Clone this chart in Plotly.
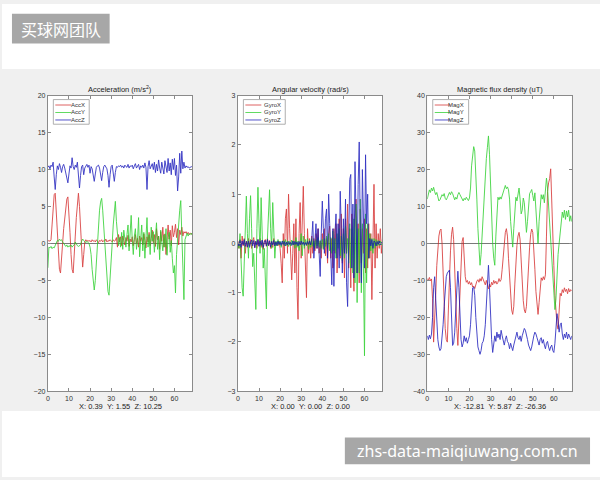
import numpy as np
import plotly.graph_objects as go

# ---------------- data ----------------
TIME_STEP = 0.5          # seconds between samples
X_MAX = 68.5
X_TICKS = [0, 10, 20, 30, 40, 50, 60]

ACC_X = [
    0.3, 0.4, 0.3, 0.5, 2.5, 5.0, 6.6, 6.8, 4.0, 1.0,
    -1.5, -3.5, -4.0, -2.5, 0.0, 2.0, 3.5, 5.0, 6.0, 6.3,
    4.5, 1.5, -1.5, -3.5, -4.0, -2.0, 1.0, 3.5, 5.5, 6.8,
    5.0, 1.5, -1.0, -3.2, -1.5, 0.2, 0.5, 0.3, 0.4, 0.3,
    0.4, 0.2, 0.5, 0.3, 0.4, 0.2, 0.5, 0.3, 0.1, 0.4,
    0.3, 0.5, 0.2, 0.4, 0.3, 0.6, 0.2, 0.4, 0.3, 0.5,
    0.3, 0.2, 0.5, 0.3, 0.4, 0.8, -0.5, 1.2, 0.2, 0.9,
    -0.3, 1.0, 0.4, -0.2, 0.8, 0.3, 1.1, -0.4, 0.6, 0.2,
    0.9, -0.3, 0.5, 1.2, 0.0, 0.7, -0.5, 1.0, 0.3, 0.8,
    -0.2, 1.3, 0.4, -0.6, 0.9, 0.2, 1.5, -0.3, 0.7, 1.8,
    0.1, 1.2, -0.4, 2.0, 0.5, 1.0, -0.8, 1.6, 0.3, 2.2,
    -0.5, 1.3, -1.5, 0.8, 2.5, 0.6, 1.8, -0.3, 2.4, 0.9,
    1.5, 2.6, 0.8, 2.0, -0.2, 1.8, 1.2, 2.2, 1.0, 1.6,
    1.4, 1.6, 1.3, 1.5, 1.2, 1.4, 1.3, 1.2,
]
ACC_Y = [
    -3.3, -0.5, -0.6, -0.4, -0.7, -0.5, -0.6, -0.3, 0.2, 0.4,
    0.3, 0.6, 0.4, 0.5, 0.2, 0.0, -0.3, -0.4, -0.2, -0.5,
    -0.3, -0.4, -0.2, -0.5, -0.3, -0.2, 0.2, -0.1, -0.3, -0.4,
    -0.3, -0.2, 0.3, 0.6, 0.4, 0.2, 0.1, 0.3, 0.2, 0.0,
    -0.5, -1.5, -3.5, -5.5, -6.3, -5.0, -2.5, 0.0, 2.5, 4.5,
    5.6, 6.1, 4.5, 2.0, -0.5, -3.0, -5.0, -6.5, -7.0, -5.0,
    -2.5, 0.0, 2.5, 4.8, 5.7, 3.0, 0.5, -0.3, 0.8, -0.5,
    1.5, -0.8, 1.8, 0.2, -0.5, 1.2, 2.5, -1.0, 0.8, 3.8,
    0.5, -1.5, 1.0, 2.0, -0.8, 0.4, 3.5, -1.8, 0.6, 2.5,
    -1.0, 1.5, -2.0, 0.8, 3.5, -0.5, 1.2, -1.5, 2.2, 0.3,
    1.6, -1.2, 0.5, 2.8, -0.8, 1.0, -2.2, 1.8, 0.2, -1.0,
    1.2, -0.5, 2.0, -1.6, 0.8, 1.5, -1.2, 0.4, -2.0, -4.0,
    -3.0, -6.7, -1.5, 0.8, 2.5, 4.5, 5.8, 2.0, -2.5, -7.6,
    0.5, 1.2, 1.4, 1.0, 1.3, 1.2, 1.4, 1.1,
]
ACC_Z = [
    10.3, 10.5, 10.1, 10.6, 10.4, 11.0, 9.0, 7.3, 9.3, 10.5,
    10.0, 10.8, 10.3, 9.6, 10.4, 10.7, 10.2, 9.6, 8.6, 8.2,
    9.4, 10.5, 10.2, 11.6, 10.4, 10.0, 10.6, 10.3, 11.0, 8.8,
    7.5, 9.2, 10.4, 10.6, 9.3, 10.2, 10.5, 10.7, 10.3, 10.6,
    9.5, 10.4, 10.1, 9.2, 8.4, 9.4, 10.3, 10.5, 10.6, 10.2,
    9.0, 8.5, 9.6, 10.4, 10.6, 10.3, 10.1, 9.2, 7.6, 9.3,
    10.4, 10.6, 9.5, 8.4, 9.6, 10.4, 10.3, 10.5, 10.4, 10.6,
    10.3, 10.5, 10.2, 10.6, 10.4, 10.3, 10.7, 10.2, 10.5, 10.4,
    10.6, 10.1, 10.5, 10.8, 10.2, 10.4, 10.7, 10.0, 10.5, 10.3,
    10.6, 10.2, 10.9, 10.3, 7.3, 10.4, 11.2, 10.1, 10.5, 10.8,
    10.0, 11.0, 9.6, 10.7, 9.8, 11.3, 10.2, 9.5, 11.0, 10.4,
    9.4, 11.2, 10.1, 9.6, 11.5, 9.8, 10.9, 9.3, 11.4, 10.0,
    11.5, 9.2, 10.6, 7.1, 9.0, 12.2, 9.5, 12.5, 10.1, 11.0,
    10.2, 10.5, 10.3, 10.4, 10.2, 10.3, 10.4, 10.3,
]

GYRO_X = [
    0.05, -0.1, 0.08, -0.3, 0.15, -0.05, 0.1, -0.2, 0.05, -0.08,
    0.1, -0.05, 0.08, -0.1, 0.05, 0.12, -0.08, 0.05, -0.1, 0.08,
    -0.05, 0.1, -0.08, 0.06, -0.12, 0.05, 0.08, -0.06, 0.1, -0.05,
    0.06, -0.1, 0.05, -0.08, 0.1, -0.05, 0.03, 0.0, -0.05, 0.05,
    -0.1, -0.4, -0.8, 0.2, -0.3, 0.5, 0.7, -0.2, 1.0, 0.3,
    -0.4, -0.74, -0.2, 0.4, -0.6, 0.5, -0.9, -1.54, 0.2, 0.83,
    -0.3, 0.5, 1.16, 0.2, -0.5, -1.1, 0.3, -0.2, 0.1, -0.3,
    0.15, -0.2, 0.1, -0.15, 0.2, -0.1, 0.3, -0.2, 0.05, -0.3,
    0.2, -0.1, 0.3, -0.25, 0.1, -0.4, 0.2, 0.35, -0.3, 0.1,
    -0.5, 0.3, -0.2, 0.4, -0.6, 0.2, 0.5, -0.3, 0.6, -0.4,
    0.3, -0.7, 0.5, -0.2, 0.8, -0.5, 0.3, -0.9, 0.6, -0.3,
    -0.97, 0.5, 0.9, -0.6, 0.4, -0.8, 0.7, -0.4, 0.3, -0.2,
    0.5, -0.6, 0.3, -0.5, 0.4, -0.3, 0.2, -1.14, 0.3, 1.2,
    -0.5, 0.4, -0.3, 0.2, -0.1, 0.3, -0.2, 0.1,
]
GYRO_Y = [
    0.0, -0.1, 0.2, -0.5, -0.9, -1.07, -0.3, 0.6, 0.96, 0.2,
    -0.3, 0.5, 0.97, 0.3, -0.47, -0.2, -0.7, -1.34, 0.3, 1.14,
    0.4, -0.2, 0.93, 0.2, -0.5, -0.1, -0.8, -1.33, 0.1, 0.8,
    1.09, 0.3, -0.1, 0.83, 0.2, -0.3, 0.05, -0.05, 0.08, -0.03,
    0.05, -0.08, 0.03, 0.06, -0.05, 0.08, -0.04, 0.05, -0.06, 0.04,
    -0.05, 0.07, -0.03, 0.05, -0.1, 0.12, -0.08, 0.05, -0.15, 0.1,
    0.2, -0.25, 0.15, -0.1, 0.08, -0.05, 0.1, -0.12, 0.06, -0.08,
    0.1, -0.06, 0.05, -0.1, 0.08, -0.05, 0.12, -0.08, 0.06, -0.1,
    0.08, -0.12, 0.1, -0.06, 0.15, -0.1, 0.2, -0.15, 0.12, -0.2,
    0.25, -0.15, 0.1, -0.3, 0.2, -0.1, 0.3, -0.25, 0.15, -0.35,
    0.2, -0.3, 0.35, -0.2, 0.1, -0.4, 0.4, -0.5, 0.3, -0.6,
    0.5, -0.8, 0.8, -1.2, 0.3, -0.6, 0.9, -1.0, 0.4, -0.5,
    -2.28, 0.6, -0.8, 0.4, -0.3, 0.2, -0.15, 0.1, -0.2, 0.1,
    -0.1, 0.08, -0.05, 0.06, -0.04, 0.05, -0.03, 0.02,
]
GYRO_Z = [
    0.02, -0.05, 0.06, -0.08, 0.05, -0.03, 0.08, -0.06, 0.04, -0.07,
    0.05, -0.08, 0.03, 0.07, -0.05, 0.06, -0.09, 0.04, -0.03, 0.08,
    -0.06, 0.05, -0.04, 0.07, -0.08, 0.03, 0.06, -0.05, 0.08, -0.04,
    0.05, -0.07, 0.04, -0.03, 0.06, -0.05, 0.03, -0.04, 0.05, -0.02,
    0.03, -0.04, 0.05, -0.02, 0.04, -0.05, 0.03, -0.03, 0.04, -0.02,
    0.02, -0.04, 0.05, -0.03, 0.04, -0.02, 0.03, -0.05, 0.04, -0.03,
    0.05, -0.02, 0.03, -0.04, 0.02, -0.03, 0.04, -0.02, 0.05, -0.03,
    0.1, 0.45, -0.3, 0.2, 0.4, -0.1, 0.3, -0.2, -0.67, 0.2,
    0.86, 0.3, -0.2, 0.5, 0.7, -0.3, 1.0, 0.4, -0.5, -0.84,
    0.3, -0.87, 0.2, 0.6, -0.3, 0.4, -0.5, 1.06, 0.3, -0.6,
    0.5, -0.2, 0.9, -0.8, -1.28, 0.4, 1.3, 1.4, -0.5, 0.8,
    -0.7, 1.66, 0.5, -0.6, 1.2, 2.06, 0.3, -0.8, 1.5, 0.2,
    -0.5, 1.8, 0.4, 1.0, -0.3, 0.1, -0.05, 0.08, -0.1, 0.05,
    0.03, -0.05, 0.04, -0.02, 0.05, -0.03, 0.02, 0.0,
]

MAG_X = [
    -9.5, -10.0, -9.2, -10.1, -9.6, -15.0, -26.7, -22.0, -14.0, -6.0,
    -1.0, 2.0, 3.5, 3.9, 0.0, -8.0, -16.0, -23.0, -26.0, -26.7,
    -18.0, -9.0, -2.0, 2.5, 4.4, 1.0, -8.0, -16.0, -23.0, -27.6,
    -20.0, -10.0, -3.0, 0.5, 1.6, -4.0, -9.0, -10.5, -10.0, -11.0,
    -10.3, -11.2, -10.6, -11.8, -11.5, -12.2, -11.0, -10.2, -9.8, -10.5,
    -9.5, -10.2, -9.0, -9.8, -10.5, -11.2, -10.0, -11.5, -12.3, -11.0,
    -11.8, -10.5, -11.2, -10.0, -10.8, -10.2, -11.0, -10.5, -9.5, -10.3,
    -9.8, -7.0, -3.0, 1.0, 3.0, 4.0, 2.0, -4.0, -10.0, -15.0,
    -18.0, -19.2, -17.0, -11.0, -5.0, -0.5, 2.0, 3.0, 1.0, -5.0,
    -11.0, -15.5, -18.0, -18.8, -17.0, -11.0, -5.0, -1.0, 2.5, 3.9,
    3.0, -1.0, -7.0, -13.0, -17.5, -19.2, -16.0, -11.0, -9.3, -10.0,
    -9.0, -9.8, -8.5, 2.0, 14.0, 16.4, 17.5, 20.2, 13.0, 4.0,
    -6.0, -14.0, -19.0, -22.0, -23.2, -18.0, -13.5, -14.2, -12.5, -13.3,
    -12.0, -13.0, -12.4, -13.6, -12.2, -13.1, -12.5, -12.8,
]
MAG_Y = [
    12.0, 13.5, 14.5, 13.8, 15.0, 14.2, 15.2, 14.0, 13.2, 13.8,
    12.5, 11.5, 11.8, 12.6, 13.2, 12.8, 13.5, 12.2, 11.8, 12.4,
    13.0, 13.8, 13.2, 14.0, 13.5, 12.3, 11.8, 12.5, 12.0, 13.2,
    13.8, 13.2, 12.5, 12.0, 11.5, 12.2, 11.8, 12.5, 12.0, 11.6,
    12.3, 15.0, 21.0, 25.0, 26.2, 25.0, 20.0, 12.0, 4.0, -2.0,
    -5.9, -3.0, 3.0, 9.0, 14.0, 19.0, 23.0, 26.0, 29.1, 24.0,
    15.0, 6.0, 0.0, -4.0, -5.9, 2.0, 10.0, 12.5, 11.8, 12.6,
    12.0, 13.0, 14.0, 15.2, 15.7, 14.8, 15.3, 14.5, 12.0, 6.0,
    2.0, -1.0, 4.0, 10.0, 12.5, 11.5, 13.5, 15.0, 12.0, 8.0,
    9.0, 12.3, 11.0, 6.0, 3.0, 6.0, 11.0, 13.5, 14.0, 14.6,
    13.0, 11.5, 13.7, 8.0, 2.0, 0.0, 6.0, 11.0, 13.2, 12.0,
    13.2, 11.0, 14.0, 17.7, 15.0, 10.0, 5.0, 0.0, -5.0, -10.0,
    -14.0, -17.9, -15.0, -8.0, -3.0, 0.0, 3.0, 6.0, 8.5, 7.0,
    9.0, 6.5, 8.8, 7.2, 9.0, 6.0, 7.5, 5.9,
]
MAG_Z = [
    -25.0, -26.0, -24.8, -25.8, -24.5, -20.0, -12.0, -9.0, -15.0, -22.0,
    -26.0, -28.0, -29.0, -28.5, -26.0, -22.0, -17.0, -12.0, -9.0, -8.0,
    -7.5, -7.2, -12.0, -22.0, -27.6, -27.0, -24.0, -18.0, -11.0, -7.5,
    -12.0, -20.0, -26.0, -28.0, -27.0, -25.0, -26.5, -25.5, -27.0, -26.0,
    -25.0, -22.0, -17.0, -12.0, -11.8, -14.0, -20.0, -25.0, -28.0, -29.0,
    -30.0, -29.0, -27.0, -26.5, -25.0, -22.0, -16.0, -10.0, -5.9, -12.0,
    -20.0, -26.0, -29.5, -27.0, -25.0, -26.5, -24.0, -25.5, -24.5, -26.0,
    -23.5, -25.0, -26.5, -27.5, -26.0, -25.0, -26.5, -27.0, -28.5, -27.0,
    -28.0, -29.0, -27.5, -26.0, -25.0, -24.0, -25.5, -26.0, -25.0, -26.5,
    -25.0, -24.0, -23.0, -23.5, -24.5, -26.0, -27.5, -28.5, -29.0, -28.0,
    -26.0, -25.0, -24.0, -24.5, -25.5, -26.5, -27.5, -26.0, -25.5, -27.0,
    -26.0, -27.5, -28.5, -27.0, -26.5, -28.0, -29.0, -28.0, -27.5, -29.0,
    -29.5, -27.0, -22.0, -19.0, -21.0, -24.0, -22.0, -21.5, -24.5, -26.0,
    -24.5, -25.5, -24.0, -25.8, -24.5, -25.2, -26.0, -25.0,
]

PANEL_TITLES = ["Acceleration (m/s<sup>2</sup>)", "Angular velocity (rad/s)",
                "Magnetic flux density (uT)"]
LEGEND_LABELS = [["AccX", "AccY", "AccZ"], ["GyroX", "GyroY", "GyroZ"],
                 ["MagX", "MagY", "MagZ"]]
READOUTS = [(0.39, 1.55, 10.25), (0.00, 0.00, 0.00), (-12.81, 5.87, -26.36)]
Y_RANGES = [(-20, 20), (-3, 3), (-40, 40)]
Y_DTICKS = [5, 1, 10]
WATERMARK_TOP = "买球网团队"
WATERMARK_BOTTOM = "zhs-data-maiqiuwang.com.cn"

PANELS = [[ACC_X, ACC_Y, ACC_Z], [GYRO_X, GYRO_Y, GYRO_Z], [MAG_X, MAG_Y, MAG_Z]]

# ---------------- styling / geometry ----------------
W, H = 600, 480
COLORS = ["rgb(212,38,38)", "rgb(34,205,34)", "rgb(18,18,185)"]
AXIS_COLOR = "#8a8a8a"
TEXT_COLOR = "#333333"
FONT = "Liberation Sans, Arial, sans-serif"
PANEL_LEFT_PX = [46, 236.7, 426.7]
PANEL_WIDTH_PX = 145
PANEL_TOP_PX, PANEL_BOTTOM_PX = 93, 393
LEGEND_W_PX = [36, 42, 36]

n = len(ACC_X)
for s in [v for p in PANELS for v in p]:
    if len(s) != n:
        raise ValueError("series length mismatch")
t = np.arange(n) * TIME_STEP

fig = go.Figure()
shapes = []
annotations = []
layout = {}

for i, (series, labels) in enumerate(zip(PANELS, LEGEND_LABELS)):
    suf = "" if i == 0 else str(i + 1)
    xa, ya = "x" + suf, "y" + suf
    for j, (vals, lab) in enumerate(zip(series, labels)):
        fig.add_trace(go.Scatter(
            x=t, y=vals, mode="lines", name=lab, showlegend=False,
            line=dict(color=COLORS[j], width=0.9), opacity=0.85,
            xaxis=xa, yaxis=ya, hoverinfo="skip"))

    x0 = PANEL_LEFT_PX[i] / W
    x1 = (PANEL_LEFT_PX[i] + PANEL_WIDTH_PX) / W
    common = dict(showline=True, linecolor=AXIS_COLOR, linewidth=1, mirror="ticks",
                  ticks="inside", ticklen=3, tickcolor=AXIS_COLOR, tickwidth=0.8,
                  showgrid=False, tickfont=dict(size=7, color=TEXT_COLOR, family=FONT))
    layout["xaxis" + suf] = dict(common, domain=[x0, x1], range=[0, X_MAX],
                                 tickvals=X_TICKS, zeroline=False, anchor=ya)
    layout["yaxis" + suf] = dict(common, domain=[1 - PANEL_BOTTOM_PX / H, 1 - PANEL_TOP_PX / H],
                                 range=list(Y_RANGES[i]), dtick=Y_DTICKS[i],
                                 zeroline=True, zerolinecolor="#7a7a7a", zerolinewidth=0.8,
                                 anchor=xa)

    # title and readout
    annotations.append(dict(text=PANEL_TITLES[i], xref=xa + " domain", yref=ya + " domain",
                            x=0.5, y=1, xanchor="center", yanchor="bottom", yshift=0,
                            showarrow=False, font=dict(size=7.5, color="#222", family=FONT)))
    rx, ry, rz = READOUTS[i]
    sp = "\u00a0\u00a0"
    annotations.append(dict(text=f"X: {rx:.2f}{sp}Y: {ry:.2f}{sp}Z: {rz:.2f}",
                            xref=xa + " domain", yref=ya + " domain", x=0.5, y=0,
                            xanchor="center", yanchor="top", yshift=-9, showarrow=False,
                            font=dict(size=7.5, color="#222", family=FONT)))

    # legend box
    bl = 5.5 / PANEL_WIDTH_PX
    br = (5.5 + LEGEND_W_PX[i]) / PANEL_WIDTH_PX
    shapes.append(dict(type="rect", xref=xa + " domain", yref=ya + " domain",
                       x0=bl, x1=br, y0=1 - 29 / 300, y1=1 - 4 / 300,
                       fillcolor="white", line=dict(color="#9a9a9a", width=0.8), layer="above"))
    for j, lab in enumerate(labels):
        yy = 1 - (9.5 + 7.6 * j) / 300
        shapes.append(dict(type="line", xref=xa + " domain", yref=ya + " domain",
                           x0=7.5 / PANEL_WIDTH_PX, x1=23.5 / PANEL_WIDTH_PX, y0=yy, y1=yy,
                           line=dict(color=COLORS[j], width=0.9), layer="above", opacity=0.8))
        annotations.append(dict(text=lab, xref=xa + " domain", yref=ya + " domain",
                                x=br - 2.5 / PANEL_WIDTH_PX, y=yy, xanchor="right",
                                yanchor="middle", showarrow=False,
                                font=dict(size=6, color=TEXT_COLOR, family=FONT)))

# white page regions above/below the grey figure band
shapes.append(dict(type="rect", xref="paper", yref="paper", x0=0, x1=1,
                   y0=1 - 66 / H, y1=1, fillcolor="white", line=dict(width=0), layer="below"))
shapes.append(dict(type="rect", xref="paper", yref="paper", x0=0, x1=1,
                   y0=0, y1=1 - 413 / H, fillcolor="white", line=dict(width=0), layer="below"))
# watermark boxes
shapes.append(dict(type="rect", xref="paper", yref="paper", x0=10 / W, x1=108 / W,
                   y0=1 - 40 / H, y1=1 - 10 / H, fillcolor="#a7a7a7", line=dict(width=0),
                   layer="above"))
shapes.append(dict(type="rect", xref="paper", yref="paper", x0=344 / W, x1=590 / W,
                   y0=1 - 467 / H, y1=1 - 440 / H, fillcolor="#a7a7a7", line=dict(width=0),
                   layer="above"))
annotations.append(dict(text=WATERMARK_TOP, xref="paper", yref="paper", x=59 / W, y=1 - 25 / H,
                        xanchor="center", yanchor="middle", showarrow=False,
                        font=dict(size=16, color="white", family="Noto Sans CJK SC")))
annotations.append(dict(text=WATERMARK_BOTTOM, xref="paper", yref="paper", x=467 / W,
                        y=1 - 453.5 / H, xanchor="center", yanchor="middle", showarrow=False,
                        font=dict(size=16, color="white", family="Noto Sans, DejaVu Sans")))

fig.update_layout(
    width=W, height=H, autosize=False,
    margin=dict(l=0, r=0, t=0, b=0, pad=0),
    paper_bgcolor="#f0f0f0", plot_bgcolor="white",
    showlegend=False, shapes=shapes, annotations=annotations,
    **layout)

fig.write_html("out.html")
